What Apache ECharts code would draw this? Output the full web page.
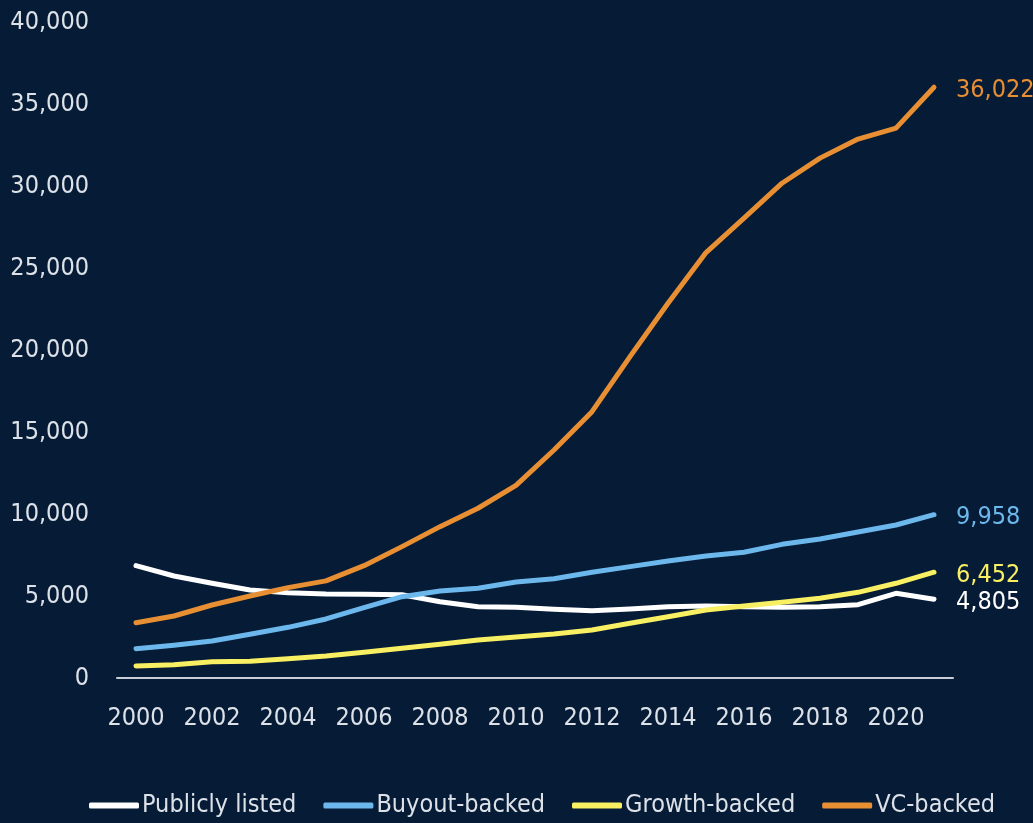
<!DOCTYPE html>
<html>
<head>
<meta charset="utf-8">
<script src="https://cdn.jsdelivr.net/npm/echarts@6/dist/echarts.min.js"></script>
<style>
	html, body { margin: 0; padding: 0; background: #051b36; }
	#chart { width: 1033px; height: 823px; }
</style>
</head>
<body>
<div id="chart"></div>
<script>
var years = ['2000', '2001', '2002', '2003', '2004', '2005', '2006', '2007', '2008', '2009', '2010',
	'2011', '2012', '2013', '2014', '2015', '2016', '2017', '2018', '2019', '2020', '2021'];

var publiclyListed = [6850, 6220, 5780, 5370, 5200, 5120, 5100, 5080, 4650, 4350, 4310,
	4190, 4100, 4200, 4350, 4390, 4350, 4310, 4350, 4470, 5165, 4805];
var buyoutBacked = [1790, 2000, 2260, 2670, 3090, 3600, 4290, 4960, 5310, 5470, 5850,
	6050, 6450, 6790, 7140, 7440, 7670, 8150, 8480, 8900, 9330, 9958];
var growthBacked = [730, 810, 990, 1020, 1180, 1340, 1570, 1810, 2060, 2320, 2500,
	2680, 2930, 3335, 3740, 4150, 4390, 4620, 4860, 5225, 5775, 6452];
var vcBacked = [3370, 3780, 4450, 5000, 5510, 5920, 6850, 8010, 9230, 10350, 11750,
	13900, 16240, 19600, 22850, 25940, 28040, 30170, 31700, 32860, 33530, 36022];

// pick a narrow face if one is there, otherwise shrink the condensed one
function hasFont(name) {
	var ctx = document.createElement('canvas').getContext('2d');
	ctx.font = '40px monospace';
	var a = ctx.measureText('Publicly listed 40,000').width;
	ctx.font = '40px "' + name + '", monospace';
	var b = ctx.measureText('Publicly listed 40,000').width;
	return a !== b;
}

var fontName, fontSize;
if (hasFont('Liberation Sans Narrow')) {
	fontName = '"Liberation Sans Narrow"';
	fontSize = 28;
} else {
	fontName = '"DejaVu Sans Condensed", sans-serif';
	fontSize = 25;
}
var textColor = '#dde2e9';

function fmt(v) {
	return v.toLocaleString('en-US');
}

function makeSeries(name, data, color) {
	return {
		name: name,
		type: 'line',
		data: data,
		symbol: 'none',
		lineStyle: { width: 5, color: color, cap: 'round', join: 'round' },
		itemStyle: { color: color },
		endLabel: {
			show: true,
			distance: 22,
			color: color,
			fontFamily: fontName,
			fontSize: fontSize,
			offset: [0, 3],
			formatter: function (p) { return fmt(p.value); }
		},
		emphasis: { disabled: true }
	};
}

var chart = echarts.init(document.getElementById('chart'));

chart.setOption({
	backgroundColor: '#051b36',
	animation: false,
	grid: { left: 117, right: 80, top: 22, bottom: 145 },
	legend: {
		bottom: 0,
		left: 84,
		itemWidth: 50,
		itemHeight: 6,
		itemGap: 27,
		icon: 'roundRect',
		textStyle: { color: textColor, fontFamily: fontName, fontSize: fontSize, padding: [0, 0, 0, -2] },
		data: ['Publicly listed', 'Buyout-backed', 'Growth-backed', 'VC-backed']
	},
	xAxis: {
		type: 'category',
		data: years,
		boundaryGap: true,
		axisLine: { lineStyle: { color: '#c9ced6', width: 2 } },
		axisTick: { show: false },
		axisLabel: {
			interval: 1,
			color: textColor,
			fontFamily: fontName,
			fontSize: fontSize,
			margin: 28
		}
	},
	yAxis: {
		type: 'value',
		min: 0,
		max: 40000,
		interval: 5000,
		axisLine: { show: false },
		axisTick: { show: false },
		splitLine: { show: false },
		axisLabel: {
			color: textColor,
			fontFamily: fontName,
			fontSize: fontSize,
			margin: 28,
			formatter: function (v) { return fmt(v); }
		}
	},
	series: [
		makeSeries('Publicly listed', publiclyListed, '#ffffff'),
		makeSeries('Buyout-backed', buyoutBacked, '#6cb8ec'),
		makeSeries('Growth-backed', growthBacked, '#f8ef62'),
		makeSeries('VC-backed', vcBacked, '#e98f33')
	]
});
</script>
</body>
</html>
